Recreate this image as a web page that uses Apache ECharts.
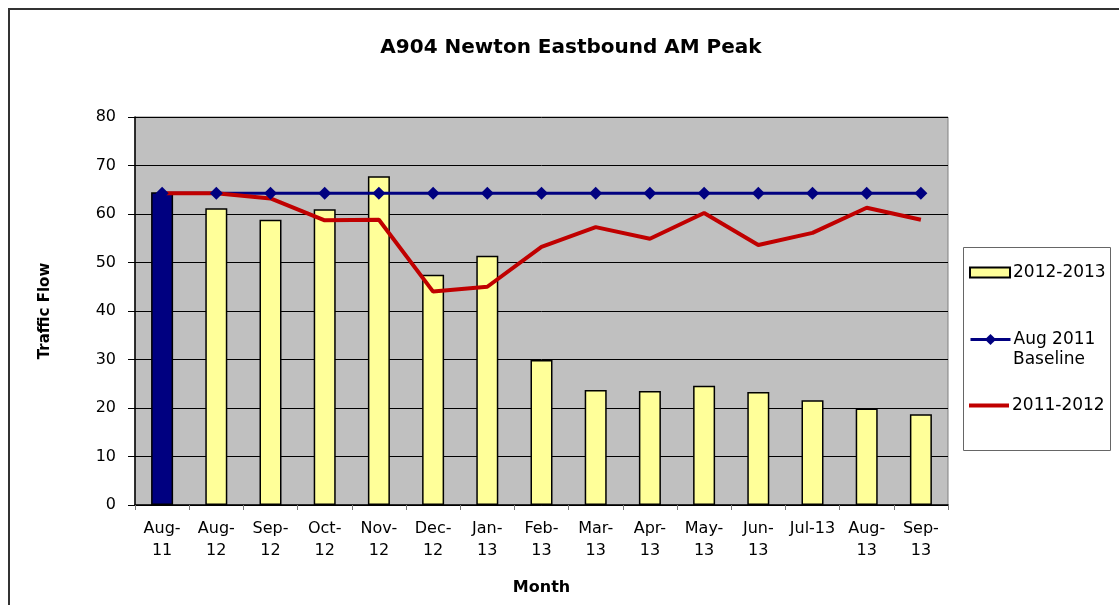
<!DOCTYPE html>
<html>
<head>
<meta charset="utf-8">
<script src="https://cdn.jsdelivr.net/npm/echarts@6/dist/echarts.min.js"></script>
<style>
  html, body { margin: 0; padding: 0; background: #fff; }
  #chart { width: 1119px; height: 605px; }
</style>
</head>
<body>
<div id="chart"></div>
<script>
// months along the x axis
const months = ['Aug-\n11', 'Aug-\n12', 'Sep-\n12', 'Oct-\n12', 'Nov-\n12', 'Dec-\n12', 'Jan-\n13',
  'Feb-\n13', 'Mar-\n13', 'Apr-\n13', 'May-\n13', 'Jun-\n13', 'Jul-13', 'Aug-\n13', 'Sep-\n13'];
// 2012-2013 bars (first bar is the Aug 2011 survey)
const flow2013 = [64.5, 61.2, 58.8, 61.0, 67.8, 47.5, 51.4, 29.9, 23.7, 23.5, 24.6, 23.3, 21.6, 19.9, 18.7];
// Aug 2011 baseline
const baseline = [64.3, 64.3, 64.3, 64.3, 64.3, 64.3, 64.3, 64.3, 64.3, 64.3, 64.3, 64.3, 64.3, 64.3, 64.3];
// 2011-2012 line
const flow2012 = [64.3, 64.3, 63.2, 58.7, 58.8, 44.0, 45.0, 53.2, 57.3, 54.9, 60.2, 53.6, 56.1, 61.3, 58.8];
const yTicks = { min: 0, max: 80, interval: 10 };

const font = 'DejaVu Sans';
const chart = echarts.init(document.getElementById('chart'));

const barData = flow2013.map((v, i) => (i === 0
  ? { value: v, itemStyle: { color: '#000080' } }
  : v));

const legendBase = {
  orient: 'vertical',
  left: 969,
  padding: 0,
  itemWidth: 40,
  itemHeight: 10,
  itemGap: 0,
  textStyle: { fontFamily: font, fontSize: 17, color: '#000', padding: [0, 0, 0, -2] },
};

const option = {
  animation: false,
  backgroundColor: '#fff',
  title: {
    text: 'A904 Newton Eastbound AM Peak',
    left: 566,
    textAlign: 'center',
    top: 33,
    textStyle: { fontFamily: font, fontSize: 20, fontWeight: 'bold', color: '#000' },
  },
  graphic: [
    {
      type: 'rect',
      shape: { x: 9, y: 9, width: 1300, height: 800 },
      style: { fill: 'none', stroke: '#333', lineWidth: 2 },
      silent: true,
      z: -10,
    },
    {
      type: 'rect',
      shape: { x: 963.5, y: 247.5, width: 147, height: 203 },
      style: { fill: '#fff', stroke: '#666', lineWidth: 1 },
      silent: true,
      z: -1,
    },
    {
      type: 'text',
      left: 1013,
      top: 351,
      style: { text: 'Baseline', fontFamily: font, fontSize: 17, fill: '#000' },
      silent: true,
    },
  ],
  legend: [
    Object.assign({}, legendBase, {
      top: 264,
      data: [{ name: '2012-2013', icon: 'rect' }],
      itemStyle: { color: '#FFFF99', borderColor: '#000', borderWidth: 2 },
    }),
    Object.assign({}, legendBase, {
      top: 331,
      itemHeight: 14,
      data: ['Aug 2011 Baseline'],
      formatter: () => 'Aug 2011',
      lineStyle: { width: 3 },
    }),
    Object.assign({}, legendBase, {
      top: 397,
      itemHeight: 4,
      data: [{ name: '2011-2012', icon: 'rect' }],
    }),
  ],
  grid: {
    left: 135,
    right: 171,
    top: 117,
    bottom: 100,
    show: true,
    backgroundColor: '#C0C0C0',
    borderColor: '#808080',
    borderWidth: 1,
  },
  xAxis: {
    type: 'category',
    data: months,
    name: 'Month',
    nameLocation: 'middle',
    nameGap: 75,
    nameTextStyle: { fontFamily: font, fontSize: 16, fontWeight: 'bold', color: '#000' },
    axisLine: { lineStyle: { color: '#000', width: 1.5 } },
    axisTick: { show: true, length: 5, lineStyle: { color: '#777' } },
    axisLabel: {
      fontFamily: font, fontSize: 16, color: '#000', margin: 13, lineHeight: 22, interval: 0,
    },
    splitLine: { show: false },
  },
  yAxis: {
    type: 'value',
    min: yTicks.min,
    max: yTicks.max,
    interval: yTicks.interval,
    name: 'Traffic Flow',
    nameLocation: 'middle',
    nameGap: 82,
    nameRotate: 90,
    nameTextStyle: { fontFamily: font, fontSize: 15, fontWeight: 'bold', color: '#000' },
    axisLine: { show: true, lineStyle: { color: '#000', width: 1.5 } },
    axisTick: { show: true, length: 7, lineStyle: { color: '#000' } },
    axisLabel: { fontFamily: font, fontSize: 16, color: '#000', margin: 19 },
    splitLine: { show: true, lineStyle: { color: '#000', width: 1 } },
  },
  series: [
    {
      name: '2012-2013',
      type: 'bar',
      data: barData,
      barWidth: 22,
      itemStyle: { color: '#FFFF99', borderColor: '#000', borderWidth: 1.5 },
    },
    {
      name: 'Aug 2011 Baseline',
      type: 'line',
      data: baseline,
      symbol: 'diamond',
      symbolSize: 13,
      lineStyle: { color: '#000080', width: 3 },
      itemStyle: { color: '#000080' },
    },
    {
      name: '2011-2012',
      type: 'line',
      data: flow2012,
      symbol: 'none',
      lineStyle: { color: '#C00000', width: 4 },
      itemStyle: { color: '#C00000' },
    },
  ],
};

chart.setOption(option);
</script>
</body>
</html>
